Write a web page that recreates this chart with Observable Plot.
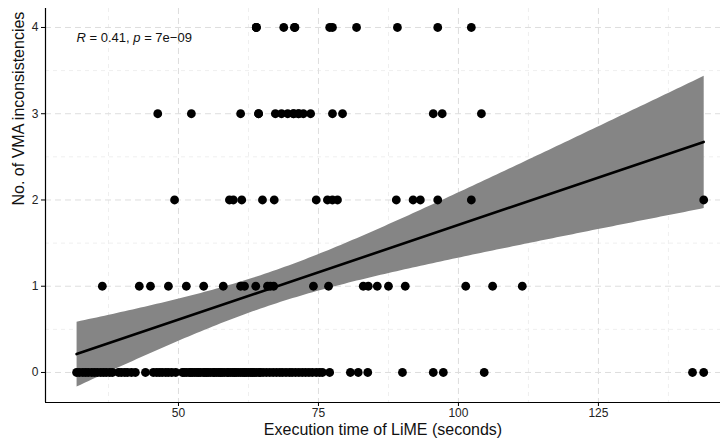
<!DOCTYPE html>
<html><head><meta charset="utf-8">
<script src="https://cdn.jsdelivr.net/npm/d3@7"></script>
<script src="https://cdn.jsdelivr.net/npm/@observablehq/plot@0.6"></script>
<style>body{margin:0;background:#fff;}</style>
</head><body><div id="chart"></div>
<script>
// Execution time (s) of points, grouped by number of VMA inconsistencies
const times0 = [31.8,32.3,32.9,33.4,33.9,34.5,35.0,35.5,36.1,36.6,37.1,37.7,38.2,
  39.3,39.8,40.4,40.9,41.6,42.3,44.1,
  45.5,46.1,46.6,47.1,47.7,48.2,48.8,49.5,
  50.7,51.0,51.4,51.9,52.2,52.5,52.9,53.3,53.6,53.9,54.4,54.7,55.0,55.3,55.7,56.2,56.4,56.8,57.2,57.5,57.8,58.2,58.7,58.9,59.3,59.7,60.0,60.3,60.7,61.1,61.5,61.8,62.1,62.5,62.9,63.2,63.5,63.9,64.4,64.6,
  65.1,65.7,66.3,66.9,67.5,68.1,68.6,69.2,69.8,70.3,70.9,71.5,72.1,72.7,73.3,73.9,74.6,75.2,75.7,
  77.0,80.7,82.1,83.8,90.0,95.5,97.3,104.6,141.8,143.8];
const times1 = [36.4,43.0,45.0,48.2,51.4,54.5,58.0,61.1,61.8,63.8,65.9,66.4,67.0,74.1,76.8,83.0,83.9,85.5,87.5,90.5,101.3,106.1,111.4];
const times2 = [49.3,59.1,59.8,61.3,65.0,67.1,74.6,76.6,77.5,78.4,88.9,91.9,93.2,96.3,102.3,143.8];
const times3 = [46.3,52.3,61.1,64.3,64.3,67.3,68.4,69.5,70.5,70.6,71.4,71.5,72.3,73.6,77.5,79.3,95.5,97.1,104.1];
const times4 = [63.9,63.9,63.9,68.8,70.7,70.8,77.0,77.5,81.8,89.1,96.3,102.3];
const counts = [0,1,2,3,4];
const xTicks = [50,75,100,125];
const xMinor = [37.5,62.5,87.5,112.5,137.5];
const yMinor = [0.5,1.5,2.5,3.5];
const annotation = "R = 0.41, p = 7e\u221209";
const xTitle = "Execution time of LiME (seconds)";
const yTitle = "No. of VMA inconsistencies";

const data = [times0,times1,times2,times3,times4].flatMap((arr,i)=>arr.map(t=>({x:t,y:counts[i]})));
const xDom = [26.25,146.8], yDom = [-0.348,4.22];

const chart = Plot.plot({
  width:725, height:444, marginLeft:45, marginRight:5, marginTop:8, marginBottom:42,
  style:{fontFamily:"'Liberation Sans', Arial, sans-serif", fontSize:"12px", background:"#fff", color:"#222"},
  x:{domain:xDom},
  y:{domain:yDom},
  marks:[
    Plot.ruleX(xMinor,{stroke:"#efefef", strokeDasharray:"4,4"}),
    Plot.ruleY(yMinor,{stroke:"#efefef", strokeDasharray:"4,4"}),
    Plot.ruleX(xTicks,{stroke:"#dedede", strokeDasharray:"6,4"}),
    Plot.ruleY(counts,{stroke:"#dedede", strokeDasharray:"6,4"}),
    Plot.linearRegressionY(data,{x:"x", y:"y", stroke:"black", strokeWidth:2.6, fill:"#858585", fillOpacity:1}),
    Plot.dot(data,{x:"x", y:"y", r:4.4, fill:"black", stroke:"none"}),
    Plot.ruleX([xDom[0]],{stroke:"black", strokeWidth:1.2}),
    Plot.ruleY([yDom[0]],{stroke:"black", strokeWidth:1.2}),
    Plot.axisX({ticks:xTicks, tickFormat:"d", tickSize:4, tickPadding:2, label:null, stroke:"black", fontSize:12}),
    Plot.axisY({ticks:counts, tickFormat:"d", tickSize:4, tickPadding:3, label:null, stroke:"black", fontSize:12}),
    Plot.text([xTitle],{frameAnchor:"bottom", dy:32, fontSize:16, fill:"#111"}),
    Plot.text([yTitle],{frameAnchor:"left", rotate:-90, dx:-27, fontSize:16, fill:"#111"}),
    Plot.text([annotation],{x:()=>31.8, y:()=>3.88, textAnchor:"start", fontSize:13, fill:"#111"})
  ]
});
document.getElementById("chart").append(chart);
d3.select(chart).selectAll("text").filter(function(){return this.textContent===annotation;}).each(function(){
  const t = d3.select(this); t.text(null);
  t.append("tspan").attr("font-style","italic").text("R");
  t.append("tspan").text(" = 0.41, ");
  t.append("tspan").attr("font-style","italic").text("p");
  t.append("tspan").text(" = 7e\u221209");
});
</script>
</body></html>
